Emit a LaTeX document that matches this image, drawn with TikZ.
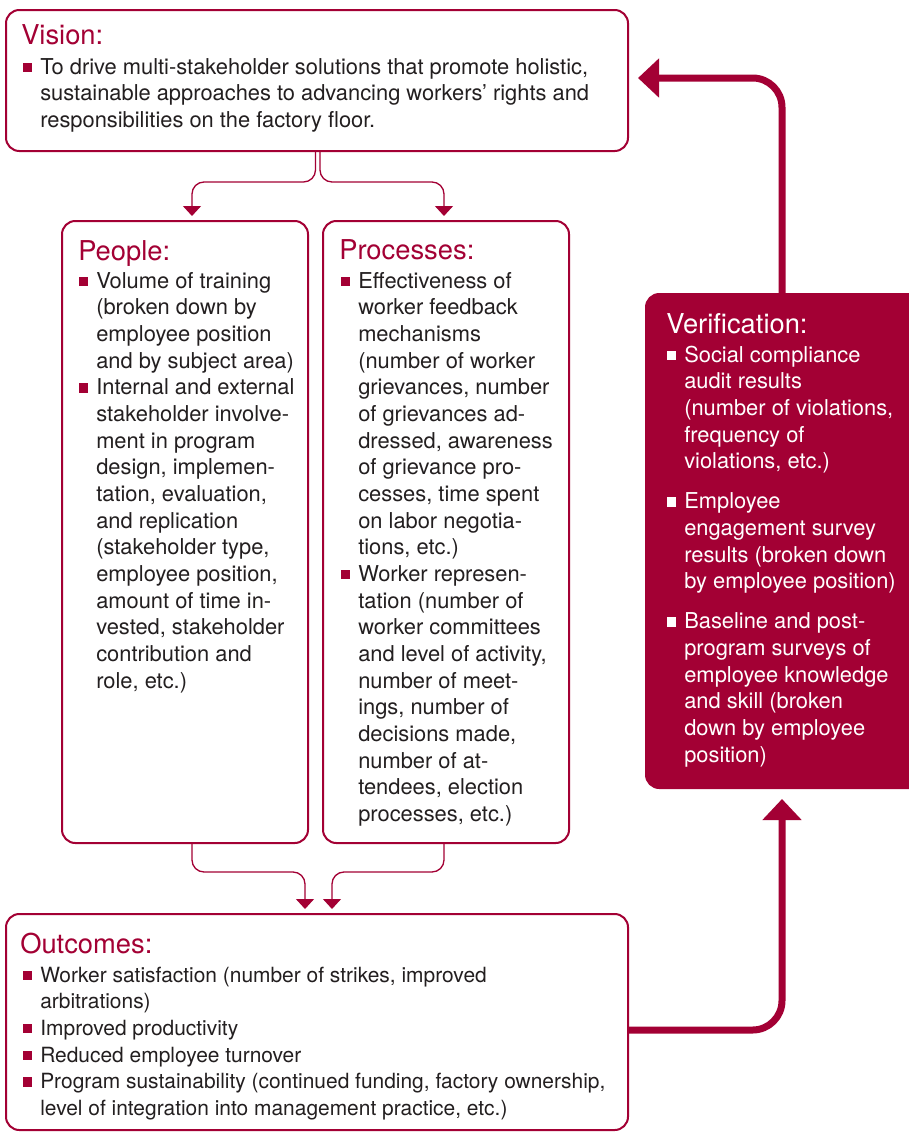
\documentclass[tikz,border=0pt]{standalone}
\usepackage{fontspec}
\setmainfont{TeX Gyre Heros}
\usetikzlibrary{arrows.meta,fit,calc}
\definecolor{crim}{RGB}{163,0,52}
\definecolor{ink}{RGB}{35,31,32}
\newcommand{\bsq}[1][crim]{\makebox[12.75pt][l]{\textcolor{#1}{\rule[1.5pt]{6.9pt}{6.9pt}}}}
\newcommand{\ind}{\hspace*{12.75pt}}
\tikzset{
  box/.style={draw=crim, line width=1.5pt, rounded corners=10pt, inner sep=0pt, fill=white},
  vbox/.style={draw=crim, fill=crim, line width=1.5pt, rounded corners=10pt, inner sep=0pt},
  hd/.style={anchor=base west, inner sep=0pt, text=crim, font=\fontsize{20.5}{24}\selectfont},
  bd/.style={anchor=base west, inner sep=0pt, text=ink, font=\fontsize{16.4}{20}\selectfont},
  thinarrow/.style={draw=crim, line width=1pt, rounded corners=9pt, -{Triangle[width=13.5pt,length=7.5pt]}, shorten >=3pt},
  thickarrow/.style={draw=crim, line width=5.25pt, rounded corners=22pt, -{Triangle[width=28.5pt,length=15.75pt]}}
}
\begin{document}
\begin{tikzpicture}[x=0.75pt,y=-0.75pt]
\path[use as bounding box, fill=white] (0,0) rectangle (909,1132);

% boxes
\node[box, fit={(6,10) (628,151)}] (vision) {};
\node[box, fit={(62,221) (308,843)}] (people) {};
\node[box, fit={(323,221) (569,843)}] (processes) {};
\node[vbox, fit={(646,294) (935,788)}] (verif) {};
\node[box, fit={(6,914) (628,1130)}] (outcomes) {};

% vision text
\node[hd] (visionh) at (21,44) {Vision:};
\node[bd] (visiont) at (23,74) {\begin{tabular}[t]{@{}l@{}}
\bsq To drive multi-stakeholder solutions that promote holistic,\\
\ind sustainable approaches to advancing workers’ rights and\\
\ind responsibilities on the factory floor.
\end{tabular}};

% people text
\node[hd] (peopleh) at (78,260) {People:};
\node[bd] (peoplet) at (79,288) {\begin{tabular}[t]{@{}l@{}}
\bsq Volume of training\\
\ind (broken down by\\
\ind employee position\\
\ind and by subject area)\\
\bsq Internal and external\\
\ind stakeholder involve-\\
\ind ment in program\\
\ind design, implemen-\\
\ind tation, evaluation,\\
\ind and replication\\
\ind (stakeholder type,\\
\ind employee position,\\
\ind amount of time in-\\
\ind vested, stakeholder\\
\ind contribution and\\
\ind role, etc.)
\end{tabular}};

% processes text
\node[hd] (processesh) at (339,259) {Processes:};
\node[bd] (processest) at (341,288) {\begin{tabular}[t]{@{}l@{}}
\bsq Effectiveness of\\
\ind worker feedback\\
\ind mechanisms\\
\ind (number of worker\\
\ind grievances, number\\
\ind of grievances ad-\\
\ind dressed, awareness\\
\ind of grievance pro-\\
\ind cesses, time spent\\
\ind on labor negotia-\\
\ind tions, etc.)\\
\bsq Worker represen-\\
\ind tation (number of\\
\ind worker committees\\
\ind and level of activity,\\
\ind number of meet-\\
\ind ings, number of\\
\ind decisions made,\\
\ind number of at-\\
\ind tendees, election\\
\ind processes, etc.)
\end{tabular}};

% verification text
\node[hd, text=white] (verifh) at (666,333) {Verification:};
\node[bd, text=white] (veriftx) at (667,362) {\begin{tabular}[t]{@{}l@{}}
\bsq[white]Social compliance\\
\ind audit results\\
\ind (number of violations,\\
\ind frequency of\\
\ind violations, etc.)\\[10pt]
\bsq[white]Employee\\
\ind engagement survey\\
\ind results (broken down\\
\ind by employee position)\\[10pt]
\bsq[white]Baseline and post-\\
\ind program surveys of\\
\ind employee knowledge\\
\ind and skill (broken\\
\ind down by employee\\
\ind position)
\end{tabular}};

% outcomes text
\node[hd] (outcomesh) at (20,953) {Outcomes:};
\node[bd, font=\fontsize{15.7}{20}\selectfont] (outcomest) at (23,982) {\begin{tabular}[t]{@{}l@{}}
\bsq Worker satisfaction (number of strikes, improved\\
\ind arbitrations)\\
\bsq Improved productivity\\
\bsq Reduced employee turnover\\
\bsq Program sustainability (continued funding, factory ownership,\\
\ind level of integration into management practice, etc.)
\end{tabular}};

% helper coordinates
\coordinate (vl) at (315.5,0);
\coordinate (vr) at (320,0);
\coordinate (pa) at (192,0);
\coordinate (pb) at (444,0);
\coordinate (hy1) at (0,182);
\coordinate (hy2) at (0,872);
\coordinate (oa) at (305,0);
\coordinate (ob) at (332,0);
\coordinate (tx) at (782,0);
\coordinate (ty1) at (0,1030);
\coordinate (ty2) at (0,78);

% thin connectors
\draw[thinarrow] (vision.south -| vl) |- (hy1 -| pa) -- (people.north -| pa);
\draw[thinarrow] (vision.south -| vr) |- (hy1 -| pb) -- (processes.north -| pb);
\draw[thinarrow] (people.south -| pa) |- (hy2 -| oa) -- (outcomes.north -| oa);
\draw[thinarrow] (processes.south -| pb) |- (hy2 -| ob) -- (outcomes.north -| ob);

% thick connectors
\draw[thickarrow, shorten >=7.5pt] (outcomes.east |- ty1) -| (verif.south -| tx);
\draw[thickarrow, shorten >=6.75pt] (verif.north -| tx) |- (vision.east |- ty2);
\end{tikzpicture}
\end{document}
